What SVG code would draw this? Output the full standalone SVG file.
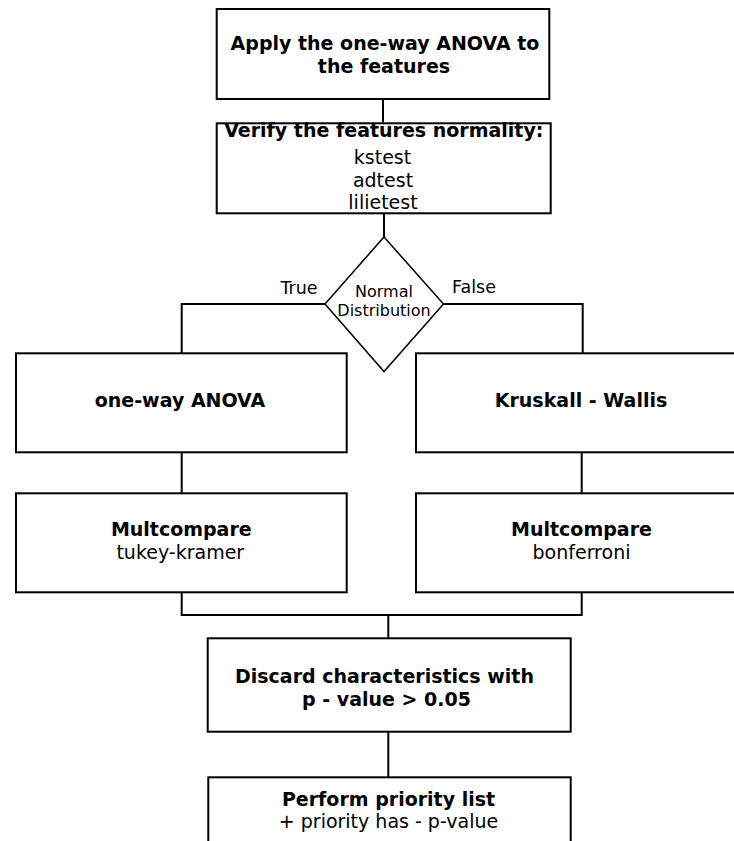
<svg xmlns="http://www.w3.org/2000/svg" width="734" height="841" viewBox="0 0 734 841">
<style>
.box{fill:#fff;stroke:#000;stroke-width:2}
.dia{fill:#fff;stroke:#000;stroke-width:1.5}
.ln{fill:none;stroke:#000;stroke-width:2}
text{font-family:"DejaVu Sans",Verdana,sans-serif;fill:#000;text-anchor:middle}
.b{font-weight:bold;font-size:19px}
.r{font-size:19px}
.s{font-size:16px}
.l{font-size:17.5px}
</style>
<rect width="734" height="841" fill="#fff"/>
<g id="connectors">
<path class="ln" d="M383 99V123.3"/>
<path class="ln" d="M384 213.3V237"/>
<path class="ln" d="M325 304H181.7V353.3"/>
<path class="ln" d="M443.5 304H582.7V353.3"/>
<path class="ln" d="M181.7 452.3V493.3"/>
<path class="ln" d="M581.7 452.3V493.3"/>
<path class="ln" d="M181.7 592.3V615H581.7V592.3"/>
<path class="ln" d="M388 615H429" stroke-width="3"/>
<path class="ln" d="M388.3 615V638.3"/>
<path class="ln" d="M388.3 731.7V777.3"/>
</g>
<g id="n_apply">
<rect class="box" x="216.7" y="9" width="332.6" height="90"/>
<text class="b" x="385" y="50">Apply the one-way ANOVA to</text>
<text class="b" x="384" y="72.7">the features</text>
</g>
<g id="n_verify">
<rect class="box" x="216.7" y="123.3" width="334" height="90"/>
<text class="b" x="383.8" y="137.3">Verify the features normality:</text>
<text class="r" x="382.5" y="164.3">kstest</text>
<text class="r" x="383" y="186.7">adtest</text>
<text class="r" x="383" y="209">lilietest</text>
</g>
<g id="n_decision">
<polygon class="dia" points="384,237 443.5,304 384,371.5 325,304"/>
<text class="s" x="384" y="296.7">Normal</text>
<text class="s" x="384" y="316">Distribution</text>
<text class="l" x="299" y="294">True</text>
<text class="l" x="474" y="293.3">False</text>
</g>
<g id="n_anova">
<rect class="box" x="16" y="353.3" width="330.7" height="99"/>
<text class="b" x="180" y="406.7">one-way ANOVA</text>
</g>
<g id="n_kruskal">
<rect class="box" x="416" y="353.3" width="331" height="99"/>
<text class="b" x="581" y="407">Kruskall - Wallis</text>
</g>
<g id="n_mc_tukey">
<rect class="box" x="16" y="493.3" width="330.7" height="99"/>
<text class="b" x="181.3" y="536">Multcompare</text>
<text class="r" x="180.3" y="559">tukey-kramer</text>
</g>
<g id="n_mc_bonf">
<rect class="box" x="416" y="493.3" width="331" height="99"/>
<text class="b" x="581.5" y="536">Multcompare</text>
<text class="r" x="581.5" y="559">bonferroni</text>
</g>
<g id="n_discard">
<rect class="box" x="207.7" y="638.3" width="363" height="93.4"/>
<text class="b" x="384.5" y="682.5">Discard characteristics with</text>
<text class="b" x="386.5" y="706">p - value &gt; 0.05</text>
</g>
<g id="n_priority">
<rect class="box" x="208.3" y="777.3" width="362.4" height="90"/>
<text class="b" x="388.5" y="805.7">Perform priority list</text>
<text class="r" x="388.5" y="828.3">+ priority has - p-value</text>
</g>
</svg>
